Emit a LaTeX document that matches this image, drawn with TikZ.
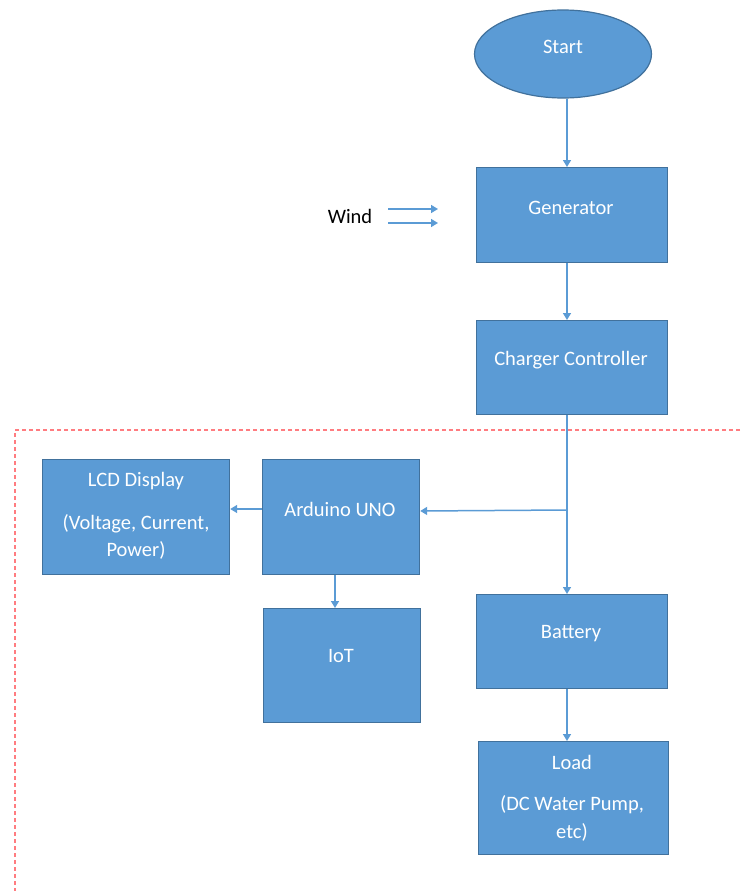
\documentclass[tikz,border=0pt]{standalone}
\usepackage{fontspec}
\setmainfont{Carlito}
\usetikzlibrary{arrows.meta,shapes.geometric}
\definecolor{boxfill}{HTML}{5B9BD5}
\definecolor{boxline}{HTML}{41719C}
\definecolor{dashred}{HTML}{FF7C80}
\tikzset{
  box/.style={draw=boxline,line width=1.2pt,fill=boxfill,anchor=north west,inner sep=0pt},
  txt/.style={text=white,font=\fontsize{20.5}{24}\selectfont,inner sep=0pt},
  conn/.style={draw=boxfill,line width=1.5pt,-{Triangle[width=8pt,length=7pt]}},
  region/.style={draw=dashred,line width=2.2pt,dash pattern=on 4pt off 3pt}
}
\begin{document}
\begin{tikzpicture}[x=1pt,y=-1pt]
\useasboundingbox (0,0) rectangle (740,891);
% boxes
\node[draw=boxline,line width=1.2pt,fill=boxfill,ellipse,minimum width=177pt,minimum height=88pt,inner sep=0pt] (start) at (563,54) {};
\node[box,minimum width=191pt,minimum height=95pt] (gen) at (476,167) {};
\node[box,minimum width=191pt,minimum height=94pt] (chg) at (476,320) {};
\node[box,minimum width=187pt,minimum height=115pt] (lcd) at (42,459) {};
\node[box,minimum width=157pt,minimum height=115pt] (ard) at (262,459) {};
\node[box,minimum width=157pt,minimum height=114pt] (iot) at (263,608) {};
\node[box,minimum width=191pt,minimum height=94pt] (bat) at (476,594) {};
\node[box,minimum width=190pt,minimum height=113pt] (load) at (478,741) {};
% texts
\node[txt] (tstart) at (563,47) {Start};
\node[txt] (tgen) at (571,208) {Generator};
\node[txt] (tchg) at (571,360) {Charger Controller};
\node[txt] (tlcd1) at (136,481) {LCD Display};
\node[txt] (tlcd2) at (136,524) {(Voltage, Current,};
\node[txt] (tlcd3) at (136,550) {Power)};
\node[txt] (tard) at (340,509) {Arduino UNO};
\node[txt] (tiot) at (341,656) {IoT};
\node[txt] (tbat) at (571,634) {Battery};
\node[txt] (tload1) at (572,762) {Load};
\node[txt] (tload2) at (572,805) {(DC Water Pump,};
\node[txt] (tload3) at (572,832) {etc)};
\node[text=black,font=\fontsize{20.5}{24}\selectfont,inner sep=0pt] (wind) at (350,216) {Wind};
% dashed region
\coordinate (r1) at (740,430);
\coordinate (r2) at (15,430);
\coordinate (r3) at (15,891);
\draw[region] (r1) -- (r2) -- (r3);
% connectors
\draw[conn] (start.south -| 567,0) -- (gen.north -| 567,0);
\draw[conn] (gen.south -| 567,0) -- (chg.north -| 567,0);
\draw[conn] (chg.south -| 567,0) -- (bat.north -| 567,0);
\coordinate (br) at (567,510);
\draw[conn] (br) -- (ard.east |- 0,511);
\draw[conn] (ard.west |- 0,509) -- (lcd.east |- 0,509);
\draw[conn] (ard.south -| 335,0) -- (iot.north -| 335,0);
\draw[conn] (bat.south -| 567,0) -- (load.north -| 567,0);
\coordinate (w1a) at (388,209);
\coordinate (w1b) at (438,209);
\coordinate (w2a) at (388,223);
\coordinate (w2b) at (438,223);
\draw[conn] (w1a) -- (w1b);
\draw[conn] (w2a) -- (w2b);
\end{tikzpicture}
\end{document}
